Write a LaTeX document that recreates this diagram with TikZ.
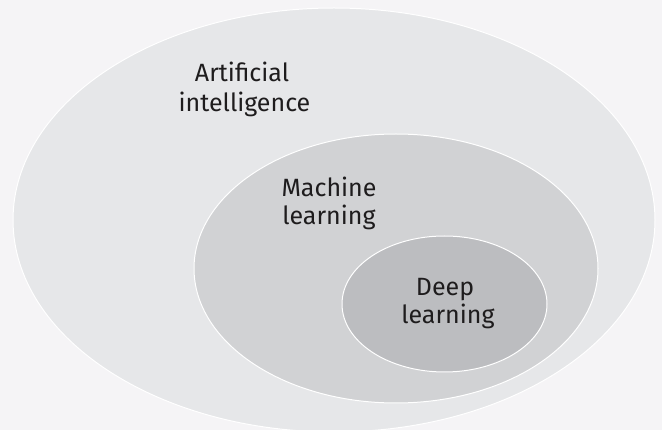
\documentclass[tikz,border=0pt]{standalone}
\usepackage{fontspec}
\setmainfont{Fira Sans}
\definecolor{bgc}{HTML}{F5F4F6}
\definecolor{aic}{HTML}{E6E7E9}
\definecolor{mlc}{HTML}{D1D2D4}
\definecolor{dlc}{HTML}{BCBDC0}
\definecolor{txt}{HTML}{1E1C1D}
\begin{document}
\begin{tikzpicture}[x=1pt,y=-1pt,
  set/.style={draw=white,line width=1pt},
  lbl/.style={anchor=base,inner sep=0pt,text=txt,font=\fontsize{25}{30}\selectfont}]
\fill[bgc] (0,0) rectangle (662,430);
\useasboundingbox (0,0) rectangle (662,430);
\path[set,fill=aic] (334,220) ellipse [x radius=321, y radius=212];
\path[set,fill=mlc] (396,268.5) ellipse [x radius=202, y radius=134.5];
\path[set,fill=dlc] (444.5,304) ellipse [x radius=102.5, y radius=68];
\node[lbl] (ai1) at (242,82) {Artificial};
\node[lbl] (ai2) at (244.5,111.5) {intelligence};
\node[lbl] (ml1) at (329,197) {Machine};
\node[lbl] (ml2) at (329,225) {learning};
\node[lbl] (dl1) at (445,296) {Deep};
\node[lbl] (dl2) at (448,324) {learning};
\end{tikzpicture}
\end{document}
